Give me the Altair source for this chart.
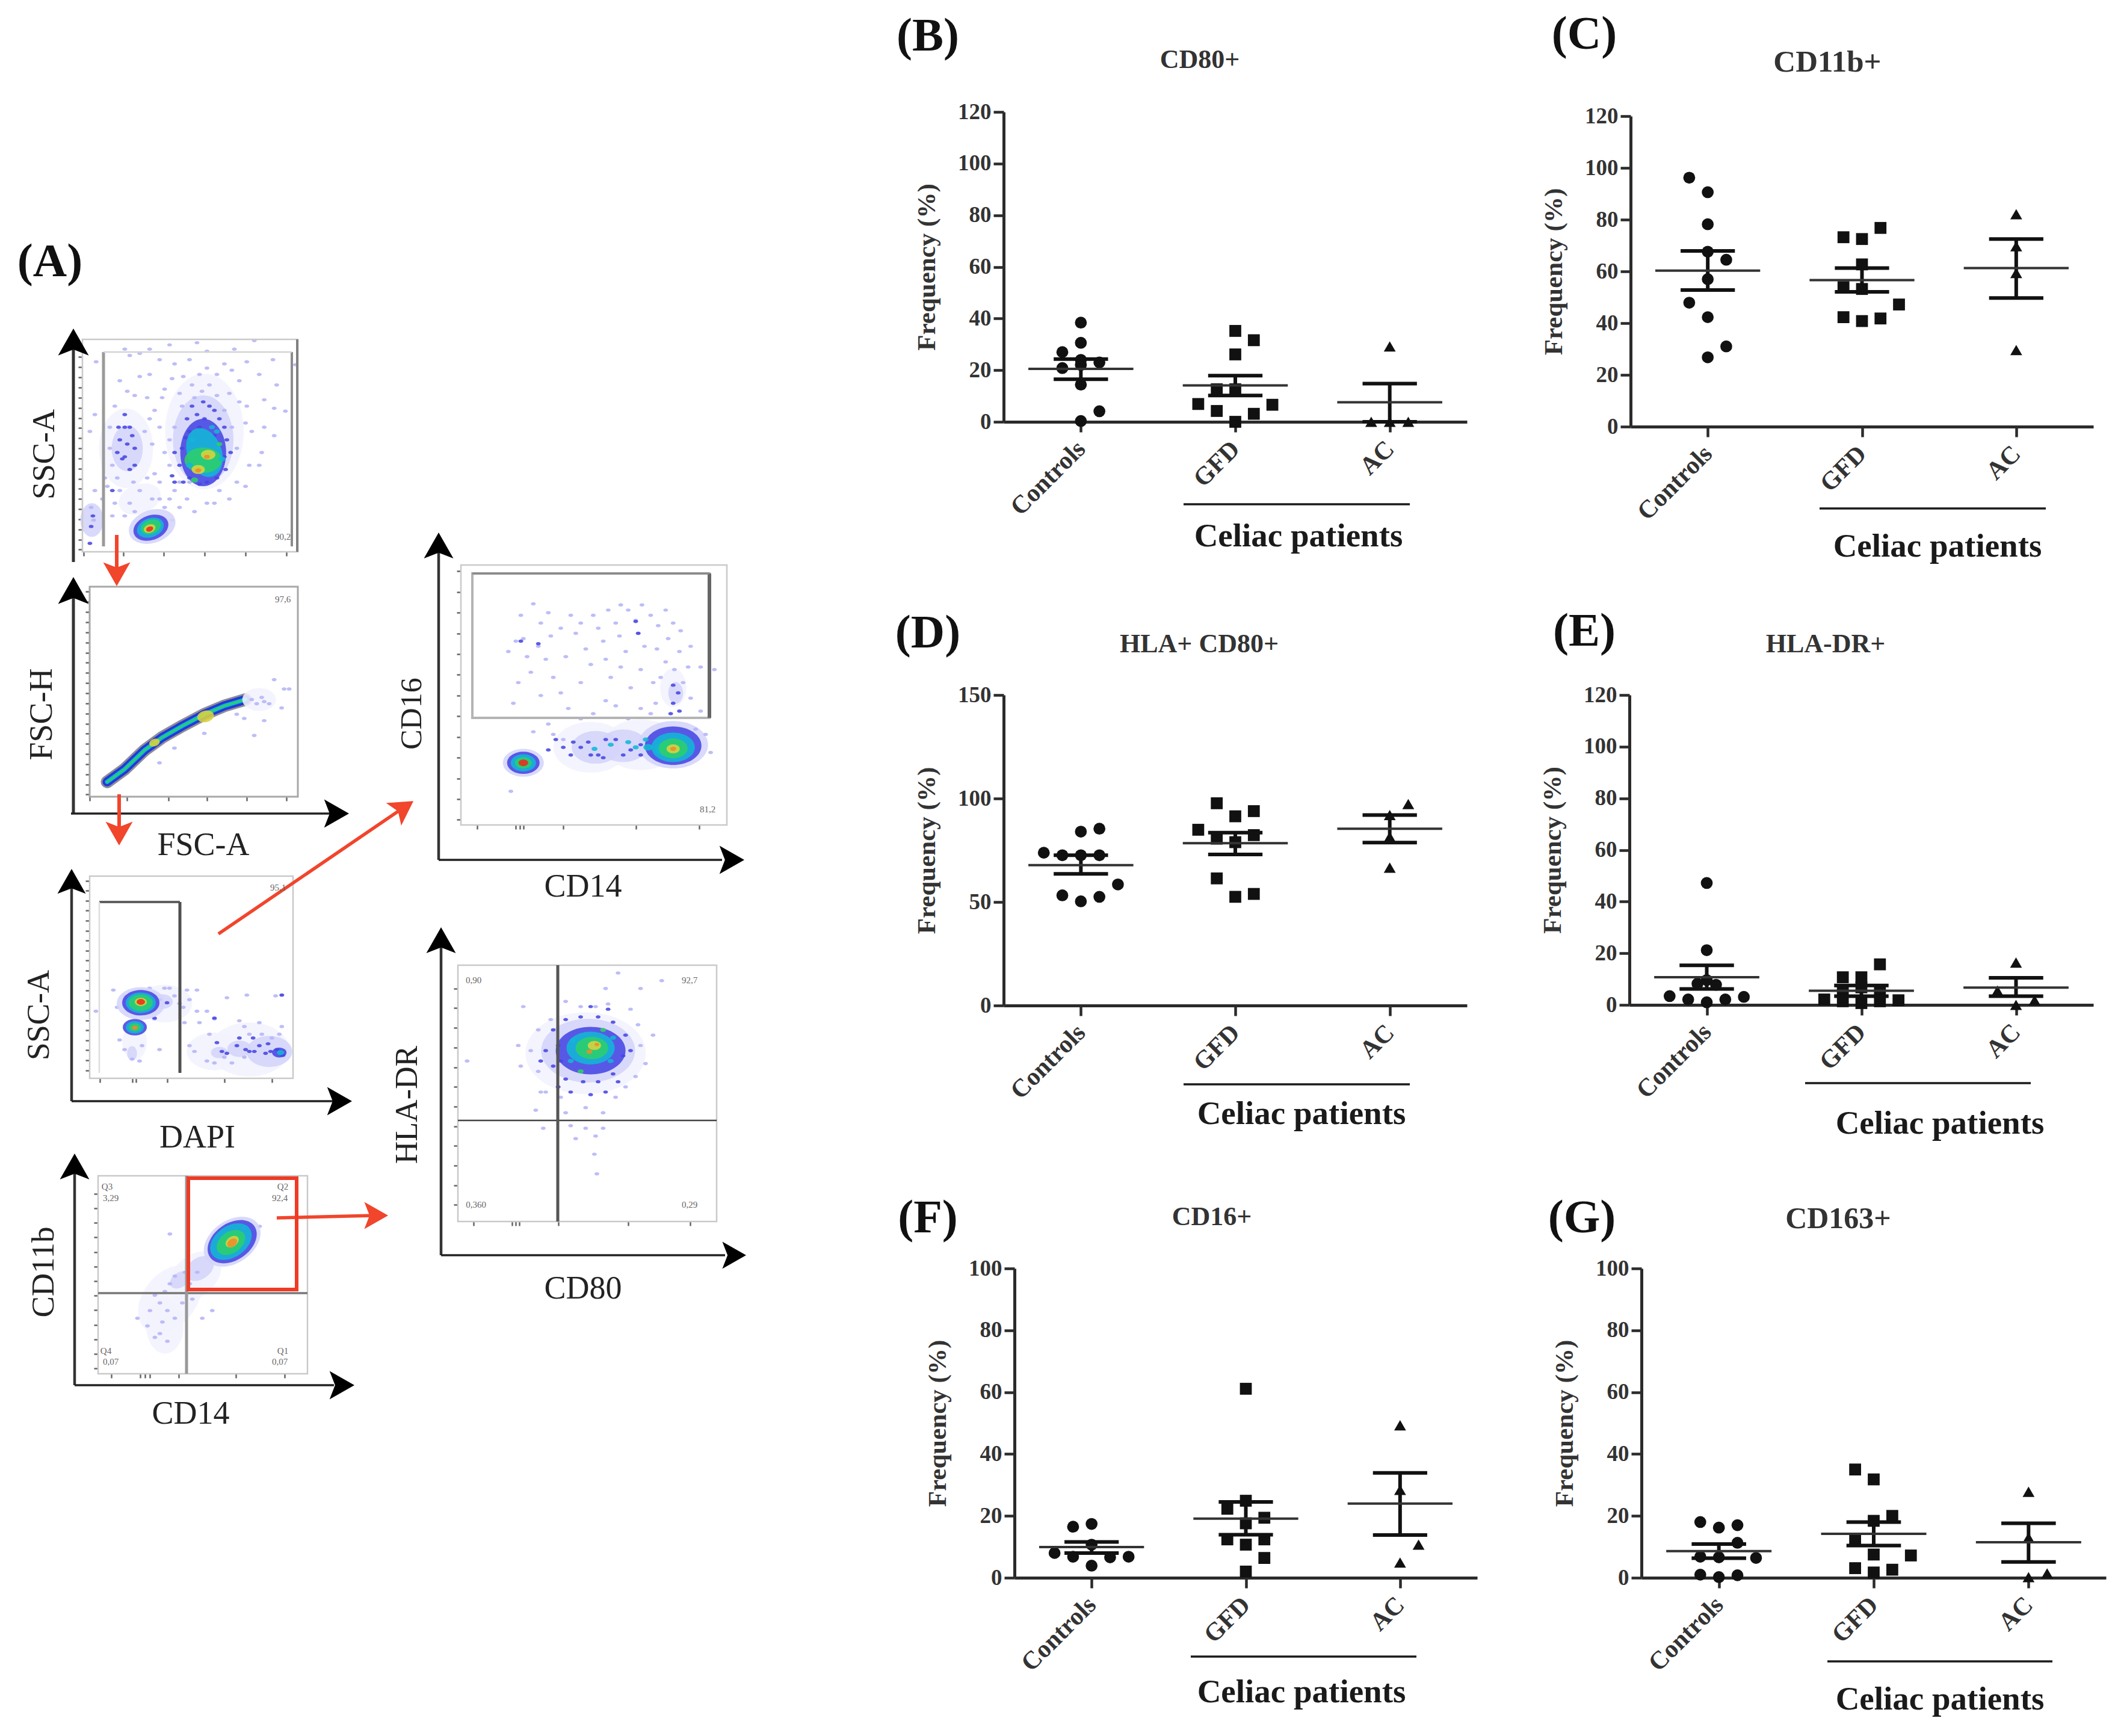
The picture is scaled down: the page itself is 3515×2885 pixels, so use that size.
import altair as alt
import pandas as pd

M = 8
W, H = 3499, 2869
SERIF = "Liberation Serif"
INK = "#2b2b2b"

GROUPS = ["Controls", "GFD", "AC"]
TICKS_120 = [0, 20, 40, 60, 80, 100, 120]
TICKS_150 = [0, 50, 100, 150]
TICKS_100 = [0, 20, 40, 60, 80, 100]

# ---- panel B: CD80+
B_CTRL = [38.4, 30.6, 27.0, 23.0, 24.0, 20.8, 22.0, 14.4, 4.1, 0.3]
B_CTRL_SLOT = [0, 0, -1, 1, 0, -1, 0, 0, 1, 0]
B_GFD = [35.2, 31.6, 26.1, 12.6, 12.6, 6.9, 6.6, 4.2, 3.1, 0.0]
B_GFD_SLOT = [0, 1, 0, -1, 0, -2, 2, -1, 1, 0]
B_AC = [29.2, 0.0, 0.0, 0.0]
B_AC_SLOT = [0, -1, 0, 1]
B_MEAN, B_HI, B_LO = [20.5, 14.1, 7.6], [24.3, 17.9, 14.8], [16.5, 10.2, 0.0]

# ---- panel C: CD11b+
C_CTRL = [96.2, 90.6, 78.2, 67.6, 64.5, 57.0, 47.9, 42.3, 31.0, 26.8]
C_CTRL_SLOT = [-1, 0, 0, 0, 1, 0, -1, 0, 1, 0]
C_GFD = [76.8, 73.2, 72.5, 62.7, 53.9, 53.2, 47.2, 42.3, 41.8, 40.8]
C_GFD_SLOT = [1, -1, 0, 0, -1, 0, 2, -1, 1, 0]
C_AC = [82.1, 69.7, 59.4, 29.6]
C_AC_SLOT = [0, 0, 0, 0]
C_MEAN, C_HI, C_LO = [60.3, 56.6, 61.3], [67.9, 61.3, 72.5], [52.8, 52.1, 49.7]

# ---- panel D: HLA+ CD80+
D_CTRL = [85.4, 84.0, 73.8, 72.6, 72.6, 72.6, 58.5, 53.2, 52.5, 50.3]
D_CTRL_SLOT = [1, 0, -2, -1, 0, 1, 2, -1, 1, 0]
D_GFD = [97.7, 93.9, 91.4, 84.9, 82.3, 80.6, 78.9, 61.4, 53.9, 52.5]
D_GFD_SLOT = [-1, 1, 0, -2, 1, -1, 0, -1, 1, 0]
D_AC = [97.3, 92.0, 81.5, 66.6]
D_AC_SLOT = [1, 0, 0, 0]
D_MEAN, D_HI, D_LO = [67.8, 78.4, 85.4], [72.6, 83.5, 92.0], [63.6, 73.0, 78.7]

# ---- panel E: HLA-DR+
E_CTRL = [47.2, 21.2, 9.6, 8.2, 7.8, 3.4, 2.1, 1.0, 2.1, 3.1]
E_CTRL_SLOT = [0, 0, 0, -0.5, 0.5, -2, -1, 0, 1, 2]
E_GFD = [15.7, 10.7, 10.7, 6.8, 5.5, 4.8, 2.1, 1.4, 0.7, 1.4, 1.8]
E_GFD_SLOT = [1, -1, 0, 0, -1, 1, -2, -1, 0, 1, 2]
E_AC = [16.4, 5.5, 1.8, 0.0]
E_AC_SLOT = [0, -1, 1, 0]
E_MEAN, E_HI, E_LO = [10.7, 5.5, 6.7], [15.3, 7.5, 10.5], [6.2, 3.4, 3.4]

# ---- panel F: CD16+
F_CTRL = [17.4, 16.5, 10.7, 8.0, 6.8, 6.6, 6.8, 3.9]
F_CTRL_SLOT = [0, -1, 0, -2, -1, 1, 2, 0]
F_GFD = [61.1, 24.9, 22.3, 19.4, 17.6, 12.4, 12.4, 10.7, 6.4, 2.0]
F_GFD_SLOT = [0, 0, -1, 1, 0, -1, 1, 0, 1, 0]
F_AC = [49.3, 28.4, 10.7, 4.9]
F_AC_SLOT = [0, 0, 1, 0]
F_MEAN, F_HI, F_LO = [9.9, 19.1, 24.0], [11.6, 24.5, 33.9], [8.0, 13.9, 13.8]

# ---- panel G: CD163+
G_CTRL = [18.0, 17.0, 16.2, 11.3, 6.8, 6.6, 6.4, 1.0, 0.8, 0.2]
G_CTRL_SLOT = [-1, 1, 0, 1, -1, 0, 2, -1, 1, 0]
G_GFD = [35.0, 31.8, 20.0, 18.4, 12.2, 7.5, 7.2, 3.1, 2.6, 1.7]
G_GFD_SLOT = [-1, 0, 1, 0, -1, 0, 2, -1, 1, 0]
G_AC = [27.8, 13.0, 1.4, 0.2]
G_AC_SLOT = [0, 0, 1, 0]
G_MEAN, G_HI, G_LO = [8.6, 14.2, 11.5], [10.9, 18.0, 17.6], [6.3, 10.4, 5.1]

# ---- flow-cytometry density read-outs (x, y in channel units, extent, tilt, density level)
P1_BG = [(820, 480, 96, 90, 0), (505, 520, 66, 90, 0), (815, 500, 74, 90, 1), (510, 520, 38, 90, 1),
         (368, 690, 28, 90, 1), (560, 640, 36, 340, 0)]
P1_S1 = [(500, 285), (600, 285), (680, 275), (790, 270), (830, 290), (940, 285), (1020, 265), (520, 300), (700, 320),
         (760, 310), (830, 330), (900, 320), (990, 315), (1095, 310), (1185, 322), (600, 345), (690, 355), (770, 370),
         (870, 345), (960, 360), (1110, 370), (510, 385), (540, 395), (650, 400), (720, 390), (870, 395), (990, 420),
         (1060, 405), (1145, 432), (1100, 425), (385, 315), (380, 440), (360, 480), (480, 360), (560, 350), (440, 470),
         (600, 450), (640, 470), (660, 530), (620, 580), (450, 560), (480, 620), (430, 610), (560, 620), (640, 640),
         (700, 620), (720, 660), (780, 670), (830, 650), (880, 620), (950, 600), (1000, 560), (1050, 530), (1100, 490),
         (500, 680), (450, 680), (520, 650), (380, 620), (410, 640), (365, 660), (375, 690), (690, 690), (660, 660),
         (760, 600), (720, 600), (680, 560), (700, 470), (730, 420), (900, 430), (930, 470), (950, 520),
         (560, 295), (640, 310), (735, 350), (800, 345), (930, 335), (1040, 345), (460, 420), (590, 400), (620, 430),
         (660, 380), (580, 480), (610, 510), (640, 600), (590, 590), (535, 600), (470, 590), (440, 520), (420, 590),
         (460, 650), (540, 670), (610, 640), (680, 640), (750, 640), (860, 650), (920, 640), (985, 610), (1040, 560),
         (1010, 480), (1060, 470), (985, 460), (960, 410), (920, 390), (780, 400), (810, 385), (840, 370), (680, 500)]
P1_S2 = [(760, 480), (790, 440), (840, 420), (880, 450), (730, 520), (760, 590), (900, 540), (870, 590), (720, 560),
         (830, 600), (800, 470), (860, 490), (500, 440), (480, 500), (520, 470), (540, 520), (490, 545), (520, 570),
         (470, 530), (450, 620), (360, 745), (365, 705), (372, 680), (690, 585),
         (815, 410), (770, 420), (750, 450), (820, 450), (860, 430), (900, 470), (910, 500), (745, 495), (700, 530),
         (500, 470), (510, 510), (530, 490), (475, 470), (500, 540), (540, 560), (700, 600), (735, 600), (800, 605),
         (905, 570), (925, 530)]
P1_CORE = [(815, 530, 56, 90, 2), (820, 530, 42, 70, 3), (815, 548, 31, 0, 4), (770, 500, 5, 0, 3), (870, 480, 5, 0, 3),
           (850, 470, 5, 0, 3), (780, 595, 6, 0, 4), (880, 510, 5, 0, 4), (890, 545, 6, 0, 3), (760, 560, 6, 0, 3),
           (835, 535, 12, 0, 5), (795, 570, 11, 0, 5),
           (795, 572, 5, 0, 6), (830, 540, 5, 0, 6), (610, 705, 40, 340, 1), (605, 708, 30, 340, 2),
           (603, 708, 23, 340, 3), (605, 706, 17, 340, 4), (600, 710, 10, 340, 5), (600, 711, 6, 340, 7)]

P2_STREAM_X = [430, 500, 580, 650, 730, 820, 900, 985]
P2_STREAM_Y = [1310, 1280, 1235, 1205, 1178, 1150, 1130, 1115]
P2_BG = [(1040, 1115, 28, 0, 0)]
P2_S1 = [(1010, 1115), (1050, 1110), (1080, 1125), (1100, 1068), (1020, 1200), (1060, 1165), (1130, 1135), (1140, 1090),
         (820, 1195), (700, 1230), (640, 1265), (950, 1150), (980, 1160), (1160, 1090), (1030, 1125), (1060, 1120)]
P2_S2 = []
P2_CORE = [(620, 1217, 9, 340, 5), (825, 1155, 14, 348, 5)]

P3_BG = [(1000, 540, 66, 0, 0), (860, 545, 46, 0, 0), (660, 420, 46, 0, 0), (540, 520, 30, 90, 0), (1080, 545, 38, 0, 1),
         (960, 538, 20, 0, 1), (880, 548, 14, 0, 1), (650, 415, 18, 0, 1), (530, 550, 12, 90, 1)]
P3_S1 = [(455, 385), (600, 380), (680, 380), (750, 385), (790, 385), (910, 405), (990, 398), (1130, 398), (1105, 400),
         (720, 420), (790, 440), (830, 440), (860, 460), (960, 465), (1040, 470), (980, 480), (780, 545), (840, 500),
         (900, 560), (930, 575), (1130, 480), (640, 540), (480, 515), (560, 570), (385, 440), (620, 460), (740, 470),
         (800, 470), (1090, 510), (1000, 500), (660, 380), (700, 400), (735, 430), (760, 410), (500, 400), (470, 430),
         (500, 540), (530, 565), (570, 530), (830, 570), (860, 575), (1050, 500), (1120, 500), (980, 560), (760, 530)]
P3_S2 = [(1130, 398), (870, 522), (860, 458), (620, 458), (950, 530), (1000, 545), (1040, 530), (1065, 550), (1110, 540),
         (1135, 555), (890, 545), (910, 550), (670, 418), (640, 410), (620, 400), (985, 540), (1020, 545), (1085, 545),
         (960, 510), (1015, 510), (1075, 525)]
P3_CORE = [(565, 420, 40, 0, 1), (565, 418, 31, 0, 2), (565, 418, 25, 0, 3), (565, 418, 20, 0, 4), (565, 416, 10, 0, 5),
           (565, 416, 7, 0, 7), (541, 482, 20, 0, 2), (541, 482, 15, 0, 3), (541, 482, 10, 0, 4), (541, 483, 5, 0, 6),
           (1120, 548, 12, 0, 2), (1125, 548, 6, 0, 3)]

P4_BG = [(780, 1130, 50, 320, 0), (680, 1190, 64, 310, 0), (660, 1260, 46, 90, 0), (800, 1110, 26, 325, 1),
         (720, 1140, 18, 325, 1)]
P4_S1 = [(620, 1180), (600, 1220), (650, 1250), (700, 1240), (620, 1290), (680, 1150), (730, 1200), (770, 1190),
         (550, 1240), (850, 1220), (810, 1240), (680, 1020), (1040, 1000), (640, 1200), (670, 1220), (700, 1130),
         (740, 1120), (760, 1150), (790, 1120), (660, 1170), (590, 1260), (640, 1280), (670, 1300)]
P4_S2 = []
P4_CORE = [(930, 1040, 52, 325, 1), (930, 1040, 45, 325, 2), (925, 1040, 38, 325, 3), (925, 1042, 26, 325, 4),
           (930, 1040, 12, 325, 5), (930, 1043, 9, 325, 6)]

P5_BG = [(800, 455, 62, 0, 0), (1000, 450, 62, 0, 0), (1130, 340, 32, 90, 0), (820, 455, 40, 0, 1), (930, 452, 40, 0, 1),
         (1130, 450, 58, 0, 1), (1140, 350, 18, 90, 1)]
P5_S1 = [(570, 178), (520, 200), (630, 195), (720, 200), (810, 200), (920, 180), (980, 210), (1040, 200), (1100, 190),
         (1130, 215), (500, 250), (530, 245), (590, 260), (640, 240), (740, 235), (850, 250), (940, 270), (990, 235),
         (1160, 230), (470, 270), (560, 310), (650, 320), (800, 295), (880, 320), (1000, 305), (1100, 290), (1190, 300),
         (1240, 300), (1295, 305), (490, 370), (680, 350), (710, 380), (860, 365), (960, 340), (1050, 330), (1200, 360),
         (630, 410), (950, 400), (1220, 420), (1000, 380), (1060, 370), (650, 430), (690, 440), (480, 540), (1280, 465),
         (600, 215), (680, 225), (760, 215), (870, 190), (900, 215), (950, 190), (1005, 180), (1070, 220), (545, 280),
         (620, 285), (700, 280), (780, 265), (830, 225), (860, 285), (915, 240), (1015, 260), (1065, 265), (1110, 245),
         (1155, 270), (1200, 260), (510, 330), (600, 355), (760, 330), (920, 300), (1080, 320), (1135, 305), (1170, 330),
         (810, 390), (900, 375), (760, 400), (1040, 390), (1240, 385), (570, 425), (1260, 430)]
P5_S2 = [(590, 255), (520, 250), (980, 212), (990, 235), (1130, 335), (1150, 350), (630, 460), (690, 455), (760, 455),
         (830, 470), (900, 440), (960, 460), (1000, 450), (850, 475), (790, 445), (860, 440), (930, 470), (1000, 470),
         (660, 440), (730, 445), (720, 470), (800, 470), (1130, 370), (1120, 390), (1155, 385)]
P5_CORE = [(530, 485, 34, 0, 1), (530, 485, 27, 0, 2), (530, 485, 21, 0, 3), (530, 485, 14, 0, 4), (530, 485, 8, 0, 7),
           (1130, 452, 47, 0, 2), (1130, 455, 36, 0, 3), (1100, 458, 18, 0, 3), (1130, 457, 24, 0, 4), (1130, 458, 11, 0, 5),
           (1130, 458, 5, 0, 6), (880, 450, 5, 0, 3), (950, 445, 5, 0, 3), (1030, 455, 8, 0, 3), (1020, 440, 5, 0, 3),
           (815, 458, 5, 0, 3), (980, 455, 5, 0, 3)]

P6_BG = [(780, 1045, 100, 0, 0), (790, 1040, 78, 0, 1)]
P6_S1 = [(910, 890), (1085, 905), (530, 955), (1000, 920), (760, 955), (820, 955), (870, 950), (510, 1030), (520, 1070),
         (1050, 1010), (1020, 1065), (590, 1000), (590, 1080), (620, 1120), (700, 1160), (780, 1150), (850, 1160),
         (580, 1155), (740, 1210), (820, 1205), (815, 1240), (825, 1278), (610, 1190), (940, 1110), (990, 990), (305, 1060),
         (640, 980), (700, 945), (860, 920), (960, 960), (1000, 1030), (560, 1040), (600, 1120), (900, 1130), (720, 1185),
         (780, 1190), (850, 1190), (680, 1130), (980, 1090)]
P6_S2 = [(620, 1040), (650, 1000), (700, 980), (760, 975), (830, 975), (890, 985), (940, 1010), (930, 1050), (890, 1085),
         (830, 1100), (770, 1100), (700, 1095), (650, 1070), (670, 1110), (800, 1125), (870, 960), (800, 955), (720, 1120),
         (860, 1120), (910, 1100), (960, 1040), (600, 1060), (670, 1030), (680, 1060)]
P6_CORE = [(800, 1040, 58, 0, 2), (800, 1035, 40, 0, 3), (805, 1035, 27, 0, 4), (730, 1020, 5, 0, 3), (880, 1060, 5, 0, 3),
           (720, 1060, 5, 0, 3), (890, 1015, 5, 0, 3), (760, 1080, 5, 0, 4), (850, 1000, 5, 0, 4),
           (815, 1030, 11, 0, 5), (795, 1042, 5, 0, 6), (825, 1028, 4, 0, 6)]

LEVEL_COLORS = ["#f3f3fe", "#d4d4fa", "#4545e2", "#12b6d6", "#2ccf6a", "#d8d43e", "#f08a2a", "#ee2a1a", "#b4b4f7"]
ELLIPSE = "M-1,0A1,0.68 0 1,1 1,0A1,0.68 0 1,1 -1,0Z"
ONE = alt.Data(values=[{"a": 1}])


def seg(x1, y1, x2, y2, color=INK, w=3.0):
    return alt.Chart(ONE).mark_rule(color=color, strokeWidth=w).encode(
        x=alt.value(x1 - M), x2=alt.value(x2 - M), y=alt.value(y1 - M), y2=alt.value(y2 - M))


def box(x1, y1, x2, y2, color="#c9c9c9", w=2.5):
    return alt.Chart(ONE).mark_rect(filled=False, stroke=color, strokeWidth=w, fillOpacity=0).encode(
        x=alt.value(x1 - M), x2=alt.value(x2 - M), y=alt.value(y1 - M), y2=alt.value(y2 - M))


def txt(s, x, y, size, angle=0, weight="normal", color="#222222", font=SERIF):
    return alt.Chart(ONE).mark_text(text=s, fontSize=size, font=font, fontWeight=weight, color=color, angle=angle,
                                    align="center", baseline="middle").encode(x=alt.value(x - M), y=alt.value(y - M))


def head(x, y, angle=0, d=50, color="#000000"):
    path = "M0,-1L0.98,0.72L0,0.34L-0.98,0.72Z"
    return alt.Chart(ONE).mark_point(shape=path, filled=True, color=color, opacity=1, size=d * d, angle=angle,
                                     strokeWidth=0).encode(x=alt.value(x - M), y=alt.value(y - M))


def panel(ctrl, ctrl_s, gfd, gfd_s, ac, ac_s, mean, hi, lo, ymax, ticks, ax_x, right, y0, ytop):
    rows = []
    for g, i, ys, ss in (("Controls", 1, ctrl, ctrl_s), ("GFD", 2, gfd, gfd_s), ("AC", 3, ac, ac_s)):
        for v, s in zip(ys, ss):
            rows.append({"group": g, "pos": i + s * 0.12, "value": v})
    pts = pd.DataFrame(rows)
    summary = pd.DataFrame({"c": [1, 2, 3], "mean": mean, "hi": hi, "lo": lo})
    summary["m1"], summary["m2"] = summary.c - 0.34, summary.c + 0.34
    summary["e1"], summary["e2"] = summary.c - 0.176, summary.c + 0.176

    xs = alt.Scale(domain=[0.5, 3.5], range=[ax_x - M, right - M], nice=False, zero=False)
    ys = alt.Scale(domain=[0, ymax], range=[y0 - M, ytop - M], nice=False, zero=False)
    xaxis = alt.Axis(orient="bottom", values=[1, 2, 3], labelExpr="['','Controls','GFD','AC'][datum.value]", title=None,
                     labelAngle=315, labelAlign="right", labelBaseline="middle", labelFontSize=42,
                     labelFont=SERIF, labelFontWeight="bold", labelColor="#333333", labelPadding=21,
                     tickSize=17, tickWidth=4.5, tickColor=INK, domainWidth=5, domainColor=INK, grid=False,
                     offset=(y0 - M) - H)
    yaxis = alt.Axis(orient="left", values=ticks, title="Frequency (%)", titleFont=SERIF, titleFontSize=43, titleFontWeight="bold",
                     titleColor="#333333", titlePadding=29, labelFontSize=37, labelFont=SERIF,
                     labelFontWeight="bold", labelColor="#333333", labelPadding=4, tickSize=17, tickWidth=4.5,
                     tickColor=INK, domainWidth=5, domainColor=INK, grid=False, format="d",
                     offset=-(ax_x - M))
    X = alt.X("pos:Q", scale=xs, axis=xaxis)
    Y = alt.Y("value:Q", scale=ys, axis=yaxis)
    dots = alt.Chart(pts).mark_point(filled=True, opacity=1, color="#111111", strokeWidth=0, clip=False).encode(
        x=X, y=Y,
        shape=alt.Shape("group:N", scale=alt.Scale(domain=GROUPS, range=["circle", "square", "triangle-up"]), legend=None),
        size=alt.Size("group:N", scale=alt.Scale(domain=GROUPS, range=[390, 390, 430]), legend=None),
    )
    base = alt.Chart(summary)
    Xm = alt.X("m1:Q", scale=xs, axis=xaxis)
    Xe = alt.X("e1:Q", scale=xs, axis=xaxis)
    Xc = alt.X("c:Q", scale=xs, axis=xaxis)
    mean_l = base.mark_rule(color="#333333", strokeWidth=4).encode(
        x=Xm, x2=alt.X2("m2:Q"), y=alt.Y("mean:Q", scale=ys, axis=yaxis))
    hi_l = base.mark_rule(color="#111111", strokeWidth=6).encode(
        x=Xe, x2=alt.X2("e2:Q"), y=alt.Y("hi:Q", scale=ys, axis=yaxis))
    lo_l = base.mark_rule(color="#111111", strokeWidth=6).encode(
        x=Xe, x2=alt.X2("e2:Q"), y=alt.Y("lo:Q", scale=ys, axis=yaxis))
    stem = base.mark_rule(color="#111111", strokeWidth=6).encode(
        x=Xc, y=alt.Y("lo:Q", scale=ys, axis=yaxis), y2=alt.Y2("hi:Q"))
    return alt.layer(dots, stem, mean_l, hi_l, lo_l)


def flow(bg, s1, s2, core, xdom, ydom, xrange, yrange, xticks, yticks, extra=None):
    rows = [dict(x=a, y=b, r=c, t=d, lv=e) for a, b, c, d, e in bg]
    rows += [dict(x=a, y=b, r=4, t=0, lv=8) for a, b in s1]
    rows += [dict(x=a, y=b, r=4, t=0, lv=2) for a, b in s2]
    rows += [dict(x=a, y=b, r=c, t=d, lv=e) for a, b, c, d, e in core]
    xs = alt.Scale(domain=xdom, range=[xrange[0] - M, xrange[1] - M], nice=False, zero=False)
    ys = alt.Scale(domain=ydom, range=[yrange[0] - M, yrange[1] - M], nice=False, zero=False)
    xa = alt.Axis(orient="bottom", values=xticks, labels=False, title=None, domain=False, grid=False, tickSize=7, tickWidth=2.5,
                  tickColor="#666666", offset=(yrange[0] - M) - H)
    ya = alt.Axis(orient="left", values=yticks, labels=False, title=None, domain=False, grid=False, tickSize=7, tickWidth=2.5,
                  tickColor="#666666", offset=-(xrange[0] - M))
    X = alt.X("x:Q", scale=xs, axis=xa)
    Y = alt.Y("y:Q", scale=ys, axis=ya)
    dens = alt.Chart(pd.DataFrame(rows)).mark_point(shape=ELLIPSE, filled=True, opacity=0.88, strokeWidth=0).encode(
        x=X, y=Y,
        size=alt.Size("r:Q", scale=alt.Scale(type="pow", exponent=2, domain=[0, 100], range=[0, 40000]), legend=None),
        angle=alt.Angle("t:Q", scale=None),
        color=alt.Color("lv:O", scale=alt.Scale(domain=list(range(9)), range=LEVEL_COLORS), legend=None),
    )
    layers = [dens]
    if extra is not None:
        layers = extra(X, Y) + layers
    return alt.layer(*layers)


def p2_stream(X, Y):
    df = pd.DataFrame({"x": P2_STREAM_X, "y": P2_STREAM_Y})
    out = []
    for c, w in (("#8d8d9a", 21), ("#2338d6", 15), ("#10b4d8", 7), ("#2ccf6a", 3)):
        out.append(alt.Chart(df).mark_line(color=c, strokeWidth=w, strokeCap="round").encode(
            x=X, y=Y, order=alt.Order("x:Q")))
    return out


charts = []

# panels B-G
charts.append(panel(B_CTRL, B_CTRL_SLOT, B_GFD, B_GFD_SLOT, B_AC, B_AC_SLOT, B_MEAN, B_HI, B_LO, 120, TICKS_120, 1668, 2438, 701, 186))
charts.append(panel(C_CTRL, C_CTRL_SLOT, C_GFD, C_GFD_SLOT, C_AC, C_AC_SLOT, C_MEAN, C_HI, C_LO, 120, TICKS_120, 2710, 3479, 709, 193))
charts.append(panel(D_CTRL, D_CTRL_SLOT, D_GFD, D_GFD_SLOT, D_AC, D_AC_SLOT, D_MEAN, D_HI, D_LO, 150, TICKS_150, 1668, 2438, 1671, 1155))
charts.append(panel(E_CTRL, E_CTRL_SLOT, E_GFD, E_GFD_SLOT, E_AC, E_AC_SLOT, E_MEAN, E_HI, E_LO, 120, TICKS_120, 2708, 3479, 1670, 1155))
charts.append(panel(F_CTRL, F_CTRL_SLOT, F_GFD, F_GFD_SLOT, F_AC, F_AC_SLOT, F_MEAN, F_HI, F_LO, 100, TICKS_100, 1686, 2455, 2622, 2108))
charts.append(panel(G_CTRL, G_CTRL_SLOT, G_GFD, G_GFD_SLOT, G_AC, G_AC_SLOT, G_MEAN, G_HI, G_LO, 100, TICKS_100, 2728, 3500, 2622, 2108))

# flow plots
step = lambda a, b, s: list(range(a, b, s))
charts.append(flow(P1_BG, P1_S1, P1_S2, P1_CORE, [330, 1195], [765, 262], (137, 495), (917, 564),
                   [335, 495, 655, 820, 985, 1150], step(280, 765, 24)))
charts.append(flow(P2_BG, P2_S1, P2_S2, P2_CORE, [360, 1195], [1345, 848], (149, 495), (1324, 975),
                   [360, 510, 675, 830, 990, 1150], step(860, 1345, 24), extra=p2_stream))
charts.append(flow(P3_BG, P3_S1, P3_S2, P3_CORE, [360, 1175], [615, 88], (149, 487), (1792, 1456),
                   [400, 530, 545, 670, 900, 1090], step(100, 615, 26)))
charts.append(flow(P4_BG, P4_S1, P4_S2, P4_CORE, [392, 1232], [1385, 868], (163, 511), (2283, 1954),
                   [445, 560, 580, 600, 715, 945, 1140], step(915, 1385, 38)))
charts.append(flow(P5_BG, P5_S1, P5_S2, P5_CORE, [280, 1345], [605, 103], (766, 1208), (1371, 939),
                   [345, 500, 515, 530, 690, 980, 1235], step(115, 605, 40)))
charts.append(flow(P6_BG, P6_S1, P6_S2, P6_CORE, [268, 1305], [1370, 875], (761, 1191), (2030, 1604),
                   [330, 485, 500, 515, 670, 950, 1200], step(920, 1370, 38)))

deco = []
# flow frames and gates
deco += [box(137, 564, 495, 917), seg(172, 585, 172, 908, "#9a9a9a", 5), seg(485, 585, 485, 908, "#8c8c8c", 4),
         seg(494, 564, 494, 917, "#808080", 4), seg(172, 585, 485, 585, "#d4d4d4", 2.5)]
deco += [box(149, 975, 495, 1324, "#a8a8a8", 3)]
deco += [box(149, 1456, 487, 1792), seg(165, 1499, 299, 1499, "#606060", 4), seg(299, 1499, 299, 1783, "#505050", 5),
         seg(165, 1499, 165, 1783, "#dddddd", 2.5)]
deco += [box(163, 1954, 511, 2283), seg(163, 2149, 511, 2149, "#777777", 3.5), seg(310, 1954, 310, 2283, "#999999", 5)]
deco += [box(766, 939, 1208, 1371), box(785, 953, 1179, 1193, "#b4b4b4", 4), seg(1179, 953, 1179, 1193, "#666666", 6),
         seg(785, 953, 1179, 953, "#8a8a8a", 3.5)]
deco += [box(761, 1604, 1191, 2030), seg(761, 1862, 1191, 1862, "#444444", 2.5), seg(927, 1604, 927, 2030, "#555555", 5)]

# black axis arrows of the gating plots
deco += [seg(122, 570, 122, 934, "#333333", 5), head(122, 572, 0, 52)]
deco += [seg(122, 985, 122, 1352, "#333333", 5), head(122, 985, 0, 52),
         seg(118, 1352, 555, 1352, "#222222", 3.5), head(556, 1352, 90, 48)]
deco += [seg(119, 1470, 119, 1830, "#333333", 4.5), head(119, 1468, 0, 48),
         seg(119, 1830, 555, 1830, "#222222", 3.5), head(561, 1830, 90, 48)]
deco += [seg(124, 1940, 124, 2302, "#333333", 4.5), head(124, 1942, 0, 50),
         seg(124, 2302, 555, 2302, "#222222", 3.5), head(565, 2302, 90, 48)]
deco += [seg(729, 915, 729, 1429, "#333333", 4.5), head(729, 910, 0, 50),
         seg(729, 1429, 1200, 1429, "#222222", 3.5), head(1213, 1429, 90, 48)]
deco += [seg(733, 1570, 733, 2086, "#333333", 4.5), head(733, 1566, 0, 50),
         seg(733, 2086, 1205, 2086, "#222222", 3.5), head(1217, 2086, 90, 46)]

# red arrows and gate
RED = "#f1452c"
deco += [seg(194, 889, 194, 950, RED, 6), head(194, 951, 180, 46, RED)]
deco += [seg(198, 1320, 198, 1380, RED, 6), head(198, 1382, 180, 46, RED)]
deco += [seg(363, 1552, 665, 1346, RED, 5.5), head(668, 1344, 56, 46, RED)]
deco += [seg(460, 2024, 622, 2020, RED, 5.5), head(622, 2020, 90, 46, RED)]
deco += [box(313, 1958, 493, 2143, "#ef3a24", 6)]

# flow labels
deco += [txt("SSC-A", 74, 755, 53, 270), txt("FSC-H", 70, 1187, 54, 270), txt("FSC-A", 338, 1405, 54),
         txt("SSC-A", 65, 1687, 53, 270), txt("DAPI", 328, 1891, 54), txt("CD11b", 73, 2114, 53, 270),
         txt("CD14", 317, 2350, 54), txt("CD16", 685, 1186, 50, 270), txt("CD14", 969, 1474, 54),
         txt("HLA-DR", 677, 1836, 52, 270), txt("CD80", 969, 2142, 54)]
for s, x, y in [("90,2", 470, 892), ("97,6", 470, 996), ("95,1", 462, 1475), ("Q3", 178, 1972), ("3,29", 184, 1991),
                ("Q2", 470, 1972), ("92,4", 465, 1991), ("Q4", 176, 2245), ("0,07", 184, 2263), ("Q1", 470, 2245),
                ("0,07", 465, 2263), ("81,2", 1176, 1345), ("0,90", 787, 1629), ("92,7", 1146, 1629),
                ("0,360", 791, 2002), ("0,29", 1146, 2002)]:
    deco.append(txt(s, x, y, 15, color="#666666"))

# panel letters and titles
for s, x, y in [("(A)", 83, 436), ("(B)", 1542, 61), ("(C)", 2633, 58), ("(D)", 1542, 1053), ("(E)", 2633, 1050),
                ("(F)", 1542, 2025), ("(G)", 2629, 2025)]:
    deco.append(txt(s, x, y, 78, weight="bold", color="#111111"))
for s, x, y, fs in [("CD80+", 1994, 100, 44), ("CD11b+", 3037, 104, 51), ("HLA+ CD80+", 1993, 1071, 44),
                    ("HLA-DR+", 3034, 1071, 44), ("CD16+", 2014, 2023, 44), ("CD163+", 3055, 2026, 50)]:
    deco.append(txt(s, x, y, fs, weight="bold", color="#333333"))

# celiac-patients brackets
for x1, x2, ly, tx, ty in [(1967, 2343, 838, 2158, 891), (3024, 3400, 845, 3220, 908), (1967, 2343, 1802, 2163, 1851),
                           (3000, 3375, 1800, 3224, 1867), (1979, 2354, 2753, 2163, 2812), (3037, 3411, 2761, 3224, 2824)]:
    deco.append(seg(x1, ly, x2, ly, "#1a1a1a", 3.5))
    deco.append(txt("Celiac patients", tx, ty, 55, weight="bold", color="#1a1a1a"))

chart = alt.layer(*charts, *deco).resolve_scale(x="independent", y="independent", color="independent",
                                                size="independent", shape="independent").resolve_axis(
    x="independent", y="independent").properties(
    width=W, height=H, padding=0, autosize=alt.AutoSizeParams(type="none"), background="white"
).configure_view(stroke=None)

chart.save("out.html", embed_options={"renderer": "svg", "actions": False})
